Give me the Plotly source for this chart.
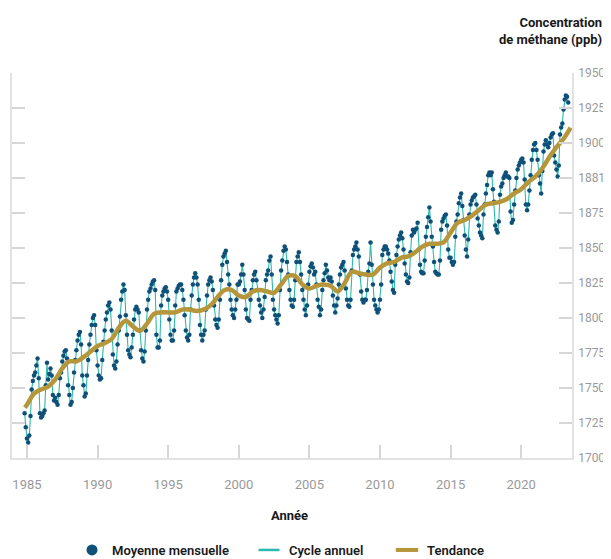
import plotly.graph_objects as go

# ---- data ----
start_year = 1984
start_month = 11  # first monthly value: November 1984

monthly_ppb = [
    1732, 1722,
    1714, 1711, 1716, 1730, 1749, 1755, 1759, 1761, 1766, 1771, 1757, 1732,
    1729, 1730, 1732, 1734, 1752, 1768, 1756, 1760, 1764, 1759, 1745, 1741,
    1743, 1740, 1738, 1745, 1757, 1761, 1769, 1773, 1776, 1777, 1771, 1752,
    1745, 1738, 1740, 1750, 1761, 1770, 1777, 1784, 1788, 1790, 1781, 1759,
    1752, 1744, 1746, 1759, 1770, 1781, 1788, 1795, 1800, 1802, 1795, 1777,
    1766, 1759, 1756, 1757, 1770, 1783, 1791, 1799, 1804, 1809, 1811, 1806,
    1791, 1774, 1766, 1764, 1769, 1781, 1791, 1801, 1813, 1819, 1824, 1820,
    1802, 1788, 1777, 1774, 1772, 1779, 1788, 1799, 1806, 1808, 1806, 1804,
    1791, 1777, 1771, 1769, 1776, 1791, 1806, 1813, 1819, 1821, 1824, 1826,
    1827, 1820, 1788, 1779, 1779, 1784, 1809, 1816, 1819, 1821, 1822, 1819,
    1813, 1799, 1788, 1784, 1784, 1791, 1809, 1819, 1821, 1823, 1824, 1824,
    1820, 1813, 1802, 1791, 1786, 1784, 1788, 1806, 1816, 1824, 1829, 1832,
    1829, 1824, 1813, 1795, 1788, 1784, 1788, 1791, 1806, 1816, 1824, 1827,
    1829, 1826, 1820, 1809, 1799, 1795, 1793, 1799, 1813, 1827, 1838, 1844,
    1846, 1848, 1840, 1831, 1824, 1813, 1806, 1802, 1800, 1806, 1813, 1824,
    1824, 1826, 1831, 1838, 1831, 1820, 1806, 1800, 1799, 1798, 1813, 1820,
    1827, 1831, 1833, 1827, 1820, 1813, 1809, 1804, 1800, 1806, 1815, 1827,
    1831, 1834, 1841, 1844, 1831, 1813, 1806, 1802, 1799, 1796, 1802, 1820,
    1834, 1841, 1848, 1851, 1849, 1840, 1831, 1820, 1813, 1809, 1808, 1813,
    1827, 1840, 1844, 1847, 1840, 1831, 1820, 1813, 1806, 1802, 1809, 1824,
    1833, 1837, 1839, 1836, 1831, 1833, 1824, 1813, 1808, 1802, 1806, 1820,
    1827, 1832, 1838, 1834, 1829, 1827, 1829, 1826, 1816, 1809, 1804, 1809,
    1814, 1824, 1831, 1836, 1838, 1840, 1834, 1821, 1813, 1809, 1808, 1813,
    1834, 1845, 1849, 1851, 1854, 1849, 1844, 1831, 1819, 1813, 1811, 1813,
    1813, 1820, 1833, 1839, 1854, 1838, 1824, 1813, 1809, 1806, 1804, 1806,
    1813, 1824, 1845, 1849, 1851, 1851, 1849, 1846, 1841, 1833, 1826, 1820,
    1818, 1838, 1845, 1851, 1856, 1859, 1861, 1857, 1849, 1839, 1831, 1826,
    1825, 1829, 1847, 1859, 1863, 1861, 1863, 1864, 1868, 1849, 1838, 1833,
    1832, 1832, 1841, 1858, 1865, 1872, 1879, 1869, 1858, 1851, 1840, 1833,
    1832, 1831, 1831, 1841, 1863, 1869, 1871, 1873, 1874, 1866, 1849, 1843,
    1843, 1840, 1838, 1840, 1858, 1869, 1874, 1882, 1886, 1889, 1880, 1870,
    1859, 1849, 1844, 1856, 1874, 1881, 1884, 1886, 1887, 1888, 1881, 1871,
    1866, 1861, 1859, 1857, 1874, 1881, 1889, 1895, 1902, 1904, 1902, 1904,
    1892, 1883, 1866, 1863, 1861, 1869, 1888, 1894, 1896, 1900, 1902, 1904,
    1901, 1901, 1900, 1876, 1868, 1870, 1881, 1891, 1900, 1906, 1909, 1911,
    1913, 1914, 1911, 1899, 1881, 1877, 1881, 1891, 1902, 1913, 1920, 1924,
    1925, 1920, 1913, 1902, 1896, 1889, 1905, 1919, 1924, 1927, 1924, 1922,
    1925, 1929, 1931, 1932, 1916, 1911, 1906, 1901, 1909, 1931, 1936, 1939,
    1949, 1956, 1959, 1958, 1954,
]

trend_year = [1984.85, 1985.0, 1985.5, 1986.0, 1986.5, 1987.0, 1987.5, 1988.0, 1988.5,
              1989.0, 1989.5, 1990.0, 1990.5, 1991.0, 1991.5, 1992.0, 1992.5, 1993.0,
              1993.5, 1994.0, 1994.5, 1995.0, 1995.5, 1996.0, 1996.5, 1997.0, 1997.5,
              1998.0, 1998.5, 1999.0, 1999.5, 2000.0, 2000.5, 2001.0, 2001.5, 2002.0,
              2002.5, 2003.0, 2003.5, 2004.0, 2004.5, 2005.0, 2005.5, 2006.0, 2006.5,
              2007.0, 2007.5, 2008.0, 2008.5, 2009.0, 2009.5, 2010.0, 2010.5, 2011.0,
              2011.5, 2012.0, 2012.5, 2013.0, 2013.5, 2014.0, 2014.5, 2015.0, 2015.5,
              2016.0, 2016.5, 2017.0, 2017.5, 2018.0, 2018.5, 2019.0, 2019.5, 2020.0,
              2020.5, 2021.0, 2021.5, 2022.0, 2022.5, 2023.0, 2023.5]
trend_ppb = [1736, 1738, 1746, 1749, 1751, 1756, 1764, 1769, 1769,
             1772, 1776, 1780, 1782, 1785, 1793, 1798, 1794, 1791,
             1796, 1803, 1804, 1804, 1804, 1806, 1806, 1805, 1806,
             1809, 1815, 1820, 1820, 1816, 1815, 1819, 1820, 1819,
             1818, 1824, 1830, 1830, 1824, 1821, 1823, 1824, 1823,
             1819, 1825, 1833, 1832, 1831, 1831, 1836, 1839, 1840,
             1843, 1844, 1847, 1851, 1853, 1853, 1854, 1861, 1868,
             1870, 1873, 1877, 1881, 1882, 1883, 1885, 1889, 1892,
             1897, 1901, 1907, 1915, 1922, 1928, 1936]

x_tick_years = [1985, 1990, 1995, 2000, 2005, 2010, 2015, 2020]
y_tick_vals = [1700, 1725, 1750, 1775, 1800, 1825, 1850, 1875, 1900, 1925, 1950, 1975]
y_tick_labels = ["1700", "1725", "1750", "1775", "1800", "1825", "1850", "1875",
                 "1881", "1900", "1925", "1950"]

# ---- styles ----
DOT = "#0f5079"
TEAL = "#2bbaae"
GOLD = "#b5963a"
FONT = "Roboto"
FIG_W, FIG_H = 603, 551   # page body adds an 8 px offset


def cx(px):  # page pixel -> container x
    return (px - 8) / FIG_W


def cy(py):  # page pixel -> container y
    return (FIG_H - (py - 8)) / FIG_H


t = [start_year + (start_month - 1 + i) / 12 for i in range(len(monthly_ppb))]

fig = go.Figure()
fig.add_trace(go.Scatter(x=t, y=monthly_ppb, mode="lines",
                         line=dict(color=TEAL, width=1.1), showlegend=False,
                         hoverinfo="skip"))
fig.add_trace(go.Scatter(x=t, y=monthly_ppb, mode="markers",
                         marker=dict(color=DOT, size=4.5), showlegend=False))
fig.add_trace(go.Scatter(x=trend_year, y=trend_ppb, mode="lines",
                         line=dict(color=GOLD, width=4.5, shape="spline", smoothing=1.0),
                         showlegend=False))

# legend-only entries
fig.add_trace(go.Scatter(x=[None], y=[None], mode="markers", name="Moyenne mensuelle",
                         marker=dict(color=DOT, size=11), legend="legend"))
fig.add_trace(go.Scatter(x=[None], y=[None], mode="markers", name="Cycle annuel",
                         marker=dict(symbol="line-ew", size=15,
                                     line=dict(color=TEAL, width=2.5)), legend="legend2"))
fig.add_trace(go.Scatter(x=[None], y=[None], mode="markers", name="Tendance",
                         marker=dict(symbol="line-ew", size=16,
                                     line=dict(color=GOLD, width=4)), legend="legend3"))

leg_common = dict(orientation="h", yanchor="middle", y=cy(550), xanchor="left",
                  xref="container", yref="container",
                  font=dict(family=FONT, size=13, color="#1a1a1a", weight=600),
                  bgcolor="rgba(0,0,0,0)", borderwidth=0, itemclick=False)

fig.update_layout(
    width=FIG_W, height=FIG_H,
    margin=dict(l=4, r=39, t=65, b=101, pad=0, autoexpand=False),
    paper_bgcolor="white", plot_bgcolor="white",
    font=dict(family=FONT),
    xaxis=dict(range=[1983.94, 2023.6], tickvals=x_tick_years,
               ticks="inside", ticklen=13, tickcolor="#d6d6d6", tickwidth=1.5,
               showline=True, linecolor="#e2e2e2", linewidth=1.5,
               showgrid=False, zeroline=False, automargin=False,
               tickfont=dict(family=FONT, size=13, color="#9a9a9a"),
               ticklabelstandoff=14),
    yaxis=dict(range=[1700, 1975], side="right", tickvals=y_tick_vals,
               ticktext=y_tick_labels, automargin=False,
               ticks="inside", ticklen=13, tickcolor="#d6d6d6", tickwidth=1.5,
               showline=True, linecolor="#e2e2e2", linewidth=1.5, mirror="ticks",
               showgrid=False, zeroline=False,
               tickfont=dict(family=FONT, size=12, color="#9a9a9a"),
               ticklabelstandoff=2),
    legend=dict(x=cx(72), **leg_common),
    legend2=dict(x=cx(249), **leg_common),
    legend3=dict(x=cx(387), **leg_common),
    annotations=[
        dict(text="<b>Concentration<br>de méthane (ppb)</b>", xref="paper", yref="paper",
             x=1, y=1, xanchor="right", yanchor="bottom", xshift=32, yshift=24,
             align="right", showarrow=False,
             font=dict(family=FONT, size=13, color="#1a1a1a")),
        dict(text="<b>Année</b>", xref="paper", yref="paper", x=0.495, y=0,
             xanchor="center", yanchor="middle", yshift=-57, showarrow=False,
             font=dict(family=FONT, size=13, color="#1a1a1a")),
    ],
)

fig.write_html("out.html")
